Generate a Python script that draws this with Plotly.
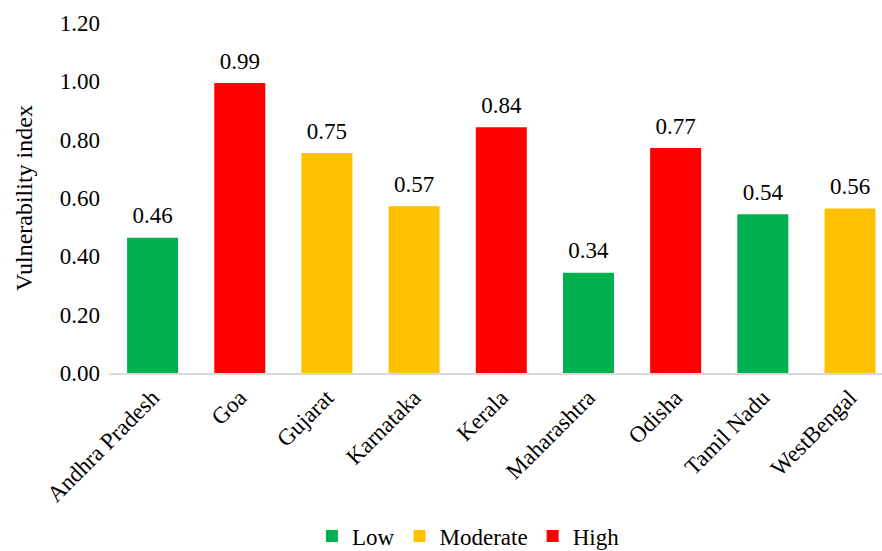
import plotly.graph_objects as go

states = ["Andhra Pradesh", "Goa", "Gujarat", "Karnataka", "Kerala",
          "Maharashtra", "Odisha", "Tamil Nadu", "WestBengal"]
values = [0.464, 0.994, 0.754, 0.572, 0.843, 0.344, 0.771, 0.544, 0.564]
levels = ["Low", "High", "Moderate", "Moderate", "High",
          "Low", "High", "Low", "Moderate"]
level_order = ["Low", "Moderate", "High"]
level_colors = {"Low": "#00B050", "Moderate": "#FFC000", "High": "#FF0000"}

FONT = "Times New Roman, serif"
FS = 23

fig = go.Figure()
for lv in level_order:
    xs = [s for s, l in zip(states, levels) if l == lv]
    ys = [v for v, l in zip(values, levels) if l == lv]
    fig.add_trace(go.Bar(
        x=xs, y=ys, name=lv,
        marker=dict(color=level_colors[lv], line=dict(width=0)),
    ))

# data labels
fig.add_trace(go.Scatter(
    x=states, y=values, mode="markers+text", showlegend=False,
    marker=dict(size=12, opacity=0),
    text=[f"{v:.2f}" for v in values], textposition="top center",
    textfont=dict(family=FONT, size=FS, color="#000000"),
    cliponaxis=False, hoverinfo="skip",
))

fig.update_layout(
    width=882, height=551,
    margin=dict(l=109, r=0, t=23, b=178, autoexpand=False),
    paper_bgcolor="white", plot_bgcolor="white",
    barmode="relative", bargap=0.415,
    font=dict(family=FONT, size=FS, color="#000000"),
    showlegend=True,
    legend=dict(orientation="h", x=0.465, xanchor="center", y=-0.466, yanchor="middle",
                font=dict(family=FONT, size=FS), traceorder="normal",
                itemwidth=30, tracegroupgap=0),
    xaxis=dict(categoryorder="array", categoryarray=states, automargin=False,
               range=[-0.5, 8.367],
               tickangle=-45, showline=True, linecolor="#D9D9D9", linewidth=2,
               ticks="", showgrid=False, tickfont=dict(family=FONT, size=FS)),
    yaxis=dict(range=[0, 1.2], dtick=0.2, tickformat=".2f", showgrid=False,
               zeroline=False, showline=False, ticks="", automargin=False,
               tickfont=dict(family=FONT, size=FS), ticklabelstandoff=8,
               title=dict(text="Vulnerability index", font=dict(family=FONT, size=24),
                          standoff=20)),
)

fig.write_html("out.html")
